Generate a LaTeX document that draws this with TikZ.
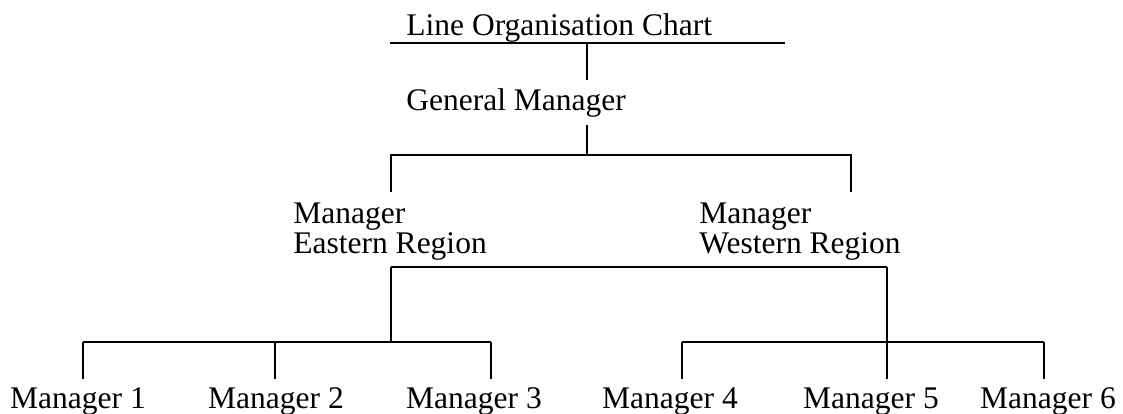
\documentclass[tikz,border=0pt]{standalone}
\usepackage{fontspec}
\setmainfont{Liberation Serif}
\begin{document}
\begin{tikzpicture}[x=1pt,y=-1pt, line width=2.8pt, line cap=butt,
	font=\fontsize{31.5}{30}\selectfont,
	lbl/.style={inner sep=0pt, anchor=base west},
	mgr/.style={inner sep=0pt, anchor=base},
	region/.style={inner sep=0pt, anchor=north west, align=left}]
	\useasboundingbox (0,0) rectangle (1123,413);
	\def\yA{155} \def\yB{267} \def\yC{342} % Ebenen
	
	% Titel und Generalmanager
	\node[lbl] (title) at (405,35) {Line Organisation Chart};
	\coordinate (tl) at (390,43); \coordinate (tr) at (785,43);
	\draw (tl)--(tr);
	\node[lbl] (gm) at (405,110) {General Manager};
	\coordinate (gmtop) at (587,43); \coordinate (gmup) at (587,80);
	\coordinate (gmdown) at (587,125); \coordinate (gmjoin) at (587,\yA);
	\draw (gmtop)--(gmup);
	\draw (gmdown)--(gmjoin);
	
	% Regionen
	\coordinate (el) at (391,\yA); \coordinate (wr) at (851,\yA);
	\draw (391,192)--(el)--(wr)--(851,192);
	\node[region] (east) at (292,201) {Manager\\Eastern Region};
	\node[region] (west) at (698,201) {Manager\\Western Region};
	
	\coordinate (et) at (391,\yB); \coordinate (wt) at (887,\yB);
	\draw (et)--(wt);
	\draw (et)--(391,\yC);
	\draw (wt)--(887,379);
	
	% Manager 1--6
	\draw (83,\yC)--(491,\yC);
	\draw (682,\yC)--(1044,\yC);
	\foreach \i/\xm/\xt in {1/83/78,2/275/276,3/491/474,4/682/670,5/887/871,6/1044/1048}{
		\node[mgr] (m\i) at (\xt,408) {Manager \i};
		\draw (\xm,\yC)--(\xm,379);
	}
\end{tikzpicture}
\end{document}
